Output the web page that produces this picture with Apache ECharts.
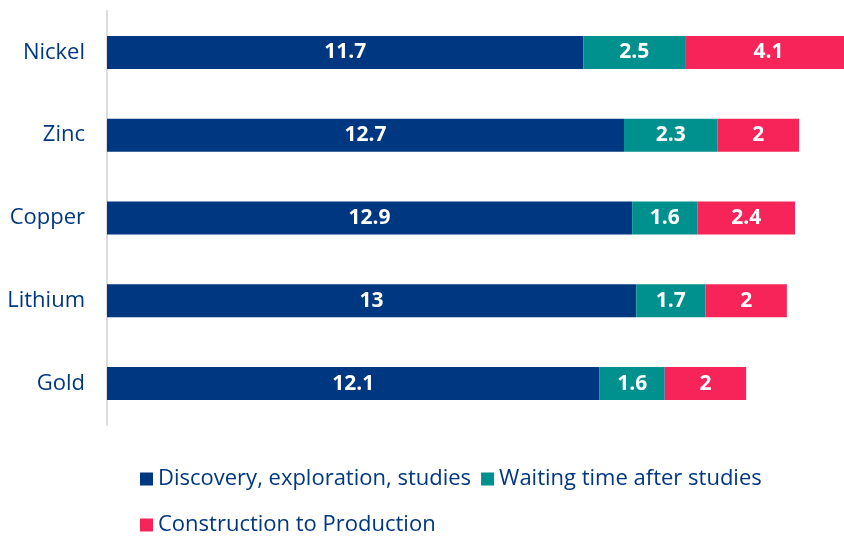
<!DOCTYPE html>
<html>
<head>
<meta charset="utf-8">
<script src="https://cdn.jsdelivr.net/npm/echarts@6/dist/echarts.min.js"></script>
<style>
html,body{margin:0;padding:0;background:#fff;}
#chart{width:844px;height:536px;}
</style>
</head>
<body>
<div id="chart"></div>
<script>
var metals = ['Nickel', 'Zinc', 'Copper', 'Lithium', 'Gold'];
var discovery = [11.7, 12.7, 12.9, 13, 12.1];
var waiting = [2.5, 2.3, 1.6, 1.7, 1.6];
var construction = [4.1, 2, 2.4, 2, 2];
var seriesNames = ['Discovery, exploration, studies', 'Waiting time after studies', 'Construction to Production'];

var navy = '#003781';
var font = 'Open Sans';

function barSeries(name, data, color) {
    return {
        name: name,
        type: 'bar',
        stack: 'total',
        barWidth: 33,
        data: data,
        itemStyle: {color: color},
        label: {
            show: true,
            position: 'inside',
            color: '#fff',
            fontFamily: font,
            fontWeight: 'bold',
            fontSize: 21
        }
    };
}

var chart = echarts.init(document.getElementById('chart'));
var legendText = {color: navy, fontFamily: font, fontSize: 22};
chart.setOption({
    animation: false,
    // the Nickel bar runs past the right edge in the original, so let the grid overflow
    grid: {left: 107, top: 11, width: 745, height: 414, outerBoundsMode: 'none'},
    legend: [
        {
            data: seriesNames.slice(0, 2),
            left: 135, top: 463,
            itemWidth: 13, itemHeight: 13, itemGap: 10,
            icon: 'rect',
            textStyle: legendText
        },
        {
            data: seriesNames.slice(2),
            left: 135, top: 509,
            itemWidth: 13, itemHeight: 13,
            icon: 'rect',
            textStyle: legendText
        }
    ],
    xAxis: {
        type: 'value', min: 0, max: 18.3, interval: 18.3,
        show: false
    },
    yAxis: {
        type: 'category',
        data: metals,
        inverse: true,
        axisLine: {lineStyle: {color: '#dcdcdc', width: 2}},
        axisTick: {show: false},
        axisLabel: {color: navy, fontFamily: font, fontSize: 22, margin: 22}
    },
    series: [
        barSeries(seriesNames[0], discovery, navy),
        barSeries(seriesNames[1], waiting, '#00908d'),
        barSeries(seriesNames[2], construction, '#f62459')
    ]
});
</script>
</body>
</html>
